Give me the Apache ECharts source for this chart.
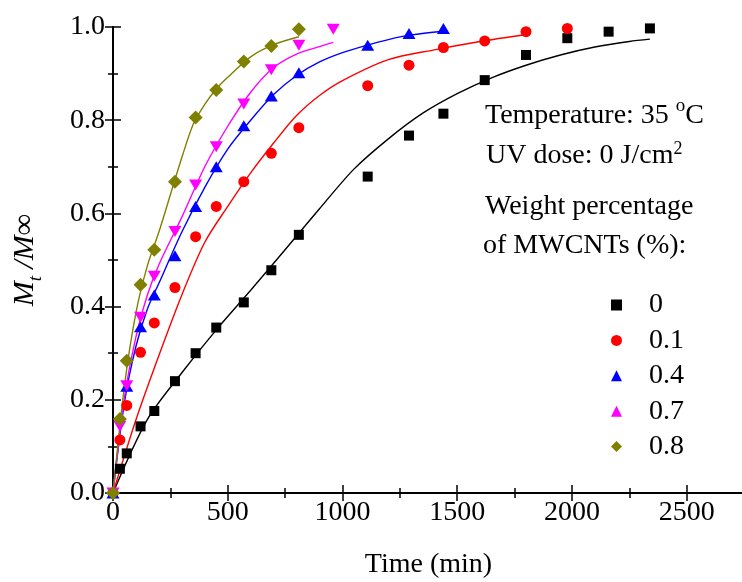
<!DOCTYPE html>
<html>
<head>
<meta charset="utf-8">
<script src="https://cdn.jsdelivr.net/npm/echarts@6/dist/echarts.min.js"></script>
<style>
html,body{margin:0;padding:0;background:#fff;}
#chart{width:742px;height:582px;}
</style>
</head>
<body>
<div id="chart"></div>
<script>
// ---- measured points ----
const groupNames = ['0', '0.1', '0.4', '0.7', '0.8'];
const colors = ['#000000', '#ff0000', '#0000ff', '#ff00ff', '#808000'];

const t0 = [0, 30, 60, 120, 180, 270, 360, 450, 570, 690, 810, 1110, 1290, 1440, 1620, 1800, 1980, 2160, 2340];
const m0 = [0, 0.052, 0.085, 0.143, 0.176, 0.240, 0.300, 0.355, 0.409, 0.478, 0.554, 0.679, 0.767, 0.814, 0.886, 0.940, 0.976, 0.990, 0.997];

const t1 = [0, 30, 60, 120, 180, 270, 360, 450, 570, 690, 810, 1110, 1290, 1440, 1620, 1800, 1980];
const m1 = [0, 0.114, 0.188, 0.302, 0.365, 0.441, 0.550, 0.615, 0.668, 0.729, 0.784, 0.874, 0.918, 0.956, 0.970, 0.990, 0.997];

const t4 = [0, 60, 120, 180, 270, 360, 450, 570, 690, 810, 1110, 1290, 1440];
const m4 = [0, 0.229, 0.357, 0.425, 0.509, 0.615, 0.700, 0.788, 0.852, 0.902, 0.961, 0.986, 0.997];

const t7 = [0, 30, 60, 120, 180, 270, 360, 450, 570, 690, 810, 960];
const m7 = [0, 0.143, 0.230, 0.377, 0.465, 0.561, 0.661, 0.743, 0.835, 0.908, 0.961, 0.995];

const t8 = [0, 30, 60, 120, 180, 270, 360, 450, 570, 690, 810];
const m8 = [0, 0.159, 0.284, 0.447, 0.522, 0.668, 0.806, 0.865, 0.926, 0.959, 0.995];

// ---- fitted curves ----
const ft0 = [0, 150, 300, 450, 600, 750, 900, 1050, 1200, 1350, 1500, 1650, 1800, 1950, 2100, 2250, 2340];
const fm0 = [0, 0.158, 0.258, 0.35, 0.435, 0.522, 0.61, 0.695, 0.76, 0.815, 0.857, 0.891, 0.918, 0.94, 0.957, 0.969, 0.974];

const ft1 = [0, 100, 200, 300, 400, 500, 600, 700, 800, 900, 1000, 1200, 1400, 1600, 1800];
const fm1 = [0, 0.157, 0.295, 0.425, 0.538, 0.615, 0.687, 0.751, 0.81, 0.853, 0.885, 0.93, 0.951, 0.969, 0.984];

const ft4 = [0, 50, 100, 150, 200, 300, 400, 500, 600, 700, 800, 900, 1000, 1100, 1200, 1300, 1440];
const fm4 = [0, 0.195, 0.315, 0.395, 0.45, 0.56, 0.656, 0.738, 0.80, 0.855, 0.896, 0.925, 0.945, 0.96, 0.973, 0.983, 0.991];

const ft7 = [0, 50, 100, 150, 200, 300, 400, 500, 600, 700, 800, 900, 960];
const fm7 = [0, 0.205, 0.335, 0.425, 0.49, 0.592, 0.70, 0.787, 0.86, 0.913, 0.942, 0.958, 0.967];

const ft8 = [0, 50, 100, 150, 200, 250, 300, 350, 400, 450, 500, 600, 700, 810];
const fm8 = [0, 0.23, 0.387, 0.488, 0.56, 0.64, 0.72, 0.792, 0.834, 0.867, 0.892, 0.936, 0.962, 0.979];

const xTicks = [0, 500, 1000, 1500, 2000, 2500];
const yTicks = [0.0, 0.2, 0.4, 0.6, 0.8, 1.0];

const FONT = '"Liberation Serif", "Times New Roman", serif';

const pts = [[t0, m0], [t1, m1], [t4, m4], [t7, m7], [t8, m8]];
const fits = [[ft0, fm0], [ft1, fm1], [ft4, fm4], [ft7, fm7], [ft8, fm8]];
const symbols = ['rect', 'circle', 'triangle', 'triangle', 'diamond'];
const sizes = [10, 11, [13, 11], [13, 11], 14];
const rotates = [0, 0, 0, 180, 0];

const zip = (a, b) => a.map((v, i) => [v, b[i]]);

const series = [];
fits.forEach((f, i) => {
  series.push({
    name: 'fit' + groupNames[i], type: 'line', data: zip(f[0], f[1]),
    showSymbol: false, smooth: 0.3,
    lineStyle: {color: colors[i], width: 1.4}, itemStyle: {color: colors[i]},
    z: 2, silent: true
  });
});
pts.forEach((p, i) => {
  series.push({
    name: groupNames[i], type: 'scatter', data: zip(p[0], p[1]),
    symbol: symbols[i], symbolSize: sizes[i], symbolRotate: rotates[i],
    itemStyle: {color: colors[i], opacity: 1}, z: 3 + i
  });
});

const axisLine = {show: true, lineStyle: {color: '#000', width: 2}};
const tick = {inside: true, length: 8, lineStyle: {color: '#000', width: 1.5}};
const minor = {show: true, splitNumber: 2, length: 5, lineStyle: {color: '#000', width: 1.5}};
const chart = echarts.init(document.getElementById('chart'), null, {renderer: 'canvas'});
chart.setOption({
  animation: false,
  backgroundColor: '#fff',
  grid: {left: 113, top: 27, width: 631, bottom: 89, containLabel: false, outerBoundsMode: 'none'},
  xAxis: [{
    type: 'value', min: 0, max: 2750, interval: 500, position: 'bottom',
    axisLine: axisLine, splitLine: {show: false}, axisTick: tick, minorTick: minor,
    axisLabel: {color: '#000', fontFamily: FONT, fontSize: 28, margin: 6,
      formatter: v => xTicks.includes(v) ? String(v) : ''},
    name: 'Time (min)', nameLocation: 'middle', nameGap: 58,
    nameTextStyle: {color: '#000', fontFamily: FONT, fontSize: 28}
  }, {
    type: 'value', min: 0, max: 2750, interval: 500, position: 'top',
    axisLine: axisLine, splitLine: {show: false}, axisTick: tick, minorTick: minor,
    axisLabel: {show: false}
  }],
  yAxis: [{
    type: 'value', min: 0, max: 1, interval: 0.2, position: 'left',
    axisLine: axisLine, splitLine: {show: false}, axisTick: tick, minorTick: minor,
    axisLabel: {color: '#000', fontFamily: FONT, fontSize: 28, margin: 8,
      formatter: v => {
        const t = yTicks.find(y => Math.abs(y - v) < 1e-9);
        return t === undefined ? '' : t.toFixed(1);
      }}
  }, {
    type: 'value', min: 0, max: 1, interval: 0.2, position: 'right',
    axisLine: axisLine, splitLine: {show: false}, axisTick: tick, minorTick: minor,
    axisLabel: {show: false}
  }],
  legend: {
    data: groupNames, orient: 'vertical', left: 606, top: 286,
    itemWidth: 11, itemHeight: 11, itemGap: 7.4,
    formatter: '{p|{name}}',
    textStyle: {color: '#000', fontFamily: FONT, fontSize: 28, lineHeight: 28,
      rich: {p: {fontFamily: FONT, fontSize: 28, lineHeight: 28, padding: [0, 0, 0, 22]}}},
    selectedMode: false
  },
  graphic: [
    {type: 'text', left: 485, top: 97, style: {
      text: '{n|Temperature: 35 }{s|o}{n|C}', fill: '#000',
      rich: {n: {fontFamily: FONT, fontSize: 28, fill: '#000'},
             s: {fontFamily: FONT, fontSize: 19, fill: '#000', padding: [0, 0, 18, 0]}}
    }},
    {type: 'text', left: 486, top: 140, style: {
      text: '{n|UV dose: 0 J/cm}{s|2}', fill: '#000',
      rich: {n: {fontFamily: FONT, fontSize: 28, fill: '#000'},
             s: {fontFamily: FONT, fontSize: 18, fill: '#000', padding: [0, 0, 14, 0]}}
    }},
    {type: 'text', left: 485, top: 193, style: {
      text: 'Weight percentage', fill: '#000', fontFamily: FONT, fontSize: 28
    }},
    {type: 'text', left: 483, top: 232, style: {
      text: 'of MWCNTs (%):', fill: '#000', fontFamily: FONT, fontSize: 28
    }},
    {type: 'text', x: 25, y: 260, rotation: Math.PI / 2, style: {
      text: '{i|M}{sub|t}{n| /}{i|M\u221E}', fill: '#000',
      align: 'center', verticalAlign: 'middle',
      rich: {i: {fontFamily: FONT, fontSize: 30, fontStyle: 'italic', fill: '#000'},
             n: {fontFamily: FONT, fontSize: 30, fontStyle: 'italic', fill: '#000'},
             sub: {fontFamily: FONT, fontSize: 19, fontStyle: 'italic', fill: '#000', padding: [22, 0, 0, 0]}}
    }}
  ],
  series: series
});
</script>
</body>
</html>
